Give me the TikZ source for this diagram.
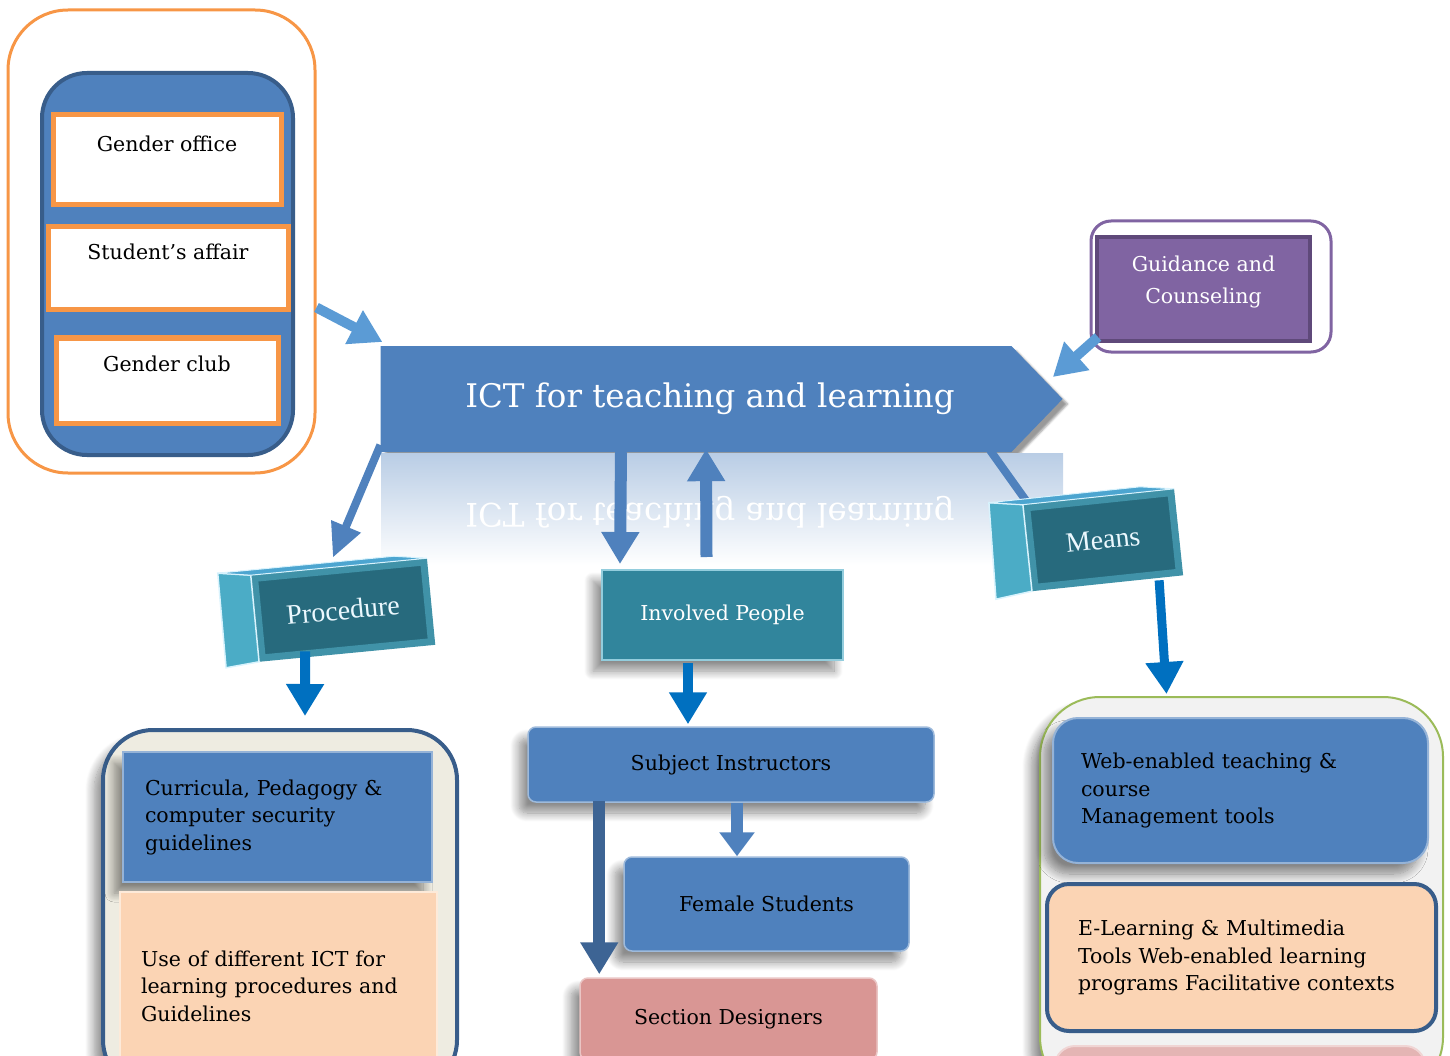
\documentclass[tikz,border=0pt]{standalone}
\usepackage{fontspec}
\setmainfont{DejaVu Serif}
\newfontfamily\blockfont{Liberation Serif}
\usetikzlibrary{positioning,calc,arrows.meta,shapes.symbols,shadows.blur}

\definecolor{ictblue}{HTML}{4F81BD}
\definecolor{darkblue}{HTML}{385D8A}
\definecolor{ictorange}{HTML}{F79646}
\definecolor{skyblue}{HTML}{5B9BD5}
\definecolor{deepblue}{HTML}{0070C0}
\definecolor{gcpurple}{HTML}{8064A2}
\definecolor{gcpurpledark}{HTML}{5F497A}
\definecolor{tealface}{HTML}{31859C}
\definecolor{teallight}{HTML}{4BACC6}
\definecolor{peach}{HTML}{FBD4B4}
\definecolor{rose}{HTML}{D99694}
\definecolor{beige}{HTML}{EEECE1}
\definecolor{olive}{HTML}{9BBB59}
\definecolor{panel}{HTML}{F2F2F2}
\definecolor{glow}{HTML}{B9CDE5}

\tikzset{
  txt/.style={font=\fontsize{20.5}{27.5}\selectfont},
  tagbox/.style={txt, draw=ictorange, line width=5pt, fill=white, text depth=33pt},
  soft/.style={blur shadow={shadow xshift=-9pt, shadow yshift=-11pt, shadow blur radius=9pt, shadow blur steps=12, shadow opacity=45}},
  glossy/.style={txt, rounded corners=8pt, fill=ictblue, draw=ictblue!55!white, line width=1.5pt, soft},
  listbox/.style={txt, align=left, inner xsep=22pt},
  cube/.style={fill=tealface!80!black, draw=teallight!85!black, line width=7pt, text=cyan!8,
    font=\blockfont\fontsize{28}{30}\selectfont},
  side/.style={fill=teallight, draw=cyan!15, line width=1.5pt},
  lid/.style={fill=cyan!35!teallight, draw=cyan!15, line width=1pt},
  fat/.style={line width=#1, -{Triangle[width=36pt,length=32pt]}},
  fat/.default=10pt,
}

\begin{document}
\begin{tikzpicture}[x=1pt,y=-1pt]
    \useasboundingbox (0,0) rectangle (1450,1056);
    \clip (0,0) rectangle (1450,1056);

    % offices
    \node[draw=ictorange, line width=3pt, rounded corners=60pt, minimum width=307pt, minimum height=463pt] (grp) at (161.5,241.5) {};
    \node[fill=ictblue, draw=darkblue, line width=4pt, rounded corners=45pt, minimum width=251pt, minimum height=382pt] (grpin) at (167.5,264) {};
    \node[tagbox, minimum width=228pt, minimum height=90pt] (office) at (167,160) {Gender office};
    \node[tagbox, minimum width=240pt, minimum height=83pt] (affair) at (168,268.5) {Student’s affair};
    \node[tagbox, minimum width=222pt, minimum height=85pt] (club) at (167,380.5) {Gender club};

    % main arrow and its reflection
    \node[signal, signal to=east, signal pointer angle=92, minimum width=682pt, minimum height=106pt,
          fill=ictblue, text=white, font=\fontsize{32.5}{36}\selectfont,
          blur shadow={shadow xshift=5pt, shadow yshift=-5pt, shadow opacity=40}] (ict) at (696,399) {\hspace*{28pt}ICT for teaching and learning};
    \shade[top color=glow, bottom color=white] (381,453) rectangle (1063,565);
    \node[font=\fontsize{32.5}{36}\selectfont, text=white, yscale=-1] (mirror) at (710,512) {ICT for teaching and learning};

    % guidance
    \node[draw=gcpurple, line width=3pt, rounded corners=20pt, minimum width=240pt, minimum height=131pt] (gcout) at (1211,286.5) {};
    \node[font=\fontsize{20.5}{32}\selectfont, fill=gcpurple, draw=gcpurpledark, line width=4pt, minimum width=213pt, minimum height=104pt,
          text=white, align=center, text depth=18pt] (gc) at (1203.5,289) {Guidance and\\Counseling};

    % lower groups
    \node[fill=beige, draw=darkblue, line width=4pt, rounded corners=50pt, minimum width=354pt, minimum height=360pt, soft] (pgrp) at (280,910) {};
    \node[listbox, fill=ictblue, draw=ictblue!60!white, line width=1.5pt, text width=265pt, minimum height=130pt, soft] (curr) at (277.5,817)
          {Curricula, Pedagogy \&\\computer security\\guidelines};
    \node[listbox, fill=peach, draw=peach!50!white, line width=1.5pt, inner xsep=21pt, text width=275pt, minimum height=188pt] (useict) at (278.5,986)
          {Use of different ICT for\\learning procedures and\\Guidelines};

    \node[fill=panel, draw=olive, line width=2pt, rounded corners=60pt, minimum width=403pt, minimum height=400pt, soft] (mgrp) at (1241.5,897) {};
    \node[listbox, rounded corners=25pt, fill=ictblue, draw=ictblue!60!white, line width=2pt, inner xsep=28pt, text width=319pt,
          minimum height=145pt, soft] (web) at (1240.5,790.5) {Web-enabled teaching \&\\course\\Management tools};
    \node[listbox, rounded corners=22pt, fill=peach, draw=darkblue, line width=4pt, inner xsep=31pt, text width=327pt,
          minimum height=147pt] (elearn) at (1241.5,957.5) {E-Learning \& Multimedia\\Tools Web-enabled learning\\programs Facilitative contexts};
    \node[fill=rose!70!white, draw=rose!40!white, line width=2pt, rounded corners=20pt, minimum width=370pt, minimum height=60pt] (more) at (1240,1076) {};

    % people
    \node[txt, fill=tealface, draw=teallight!60!white, line width=2pt, text=white, minimum width=241pt, minimum height=90pt, soft] (inv) at (722.5,615) {Involved People};
    \node[glossy, minimum width=406pt, minimum height=75pt] (subj) at (731,764.5) {Subject Instructors};
    \node[glossy, minimum width=285pt, minimum height=94pt] (fem) at (766.5,904) {Female Students};
    \node[glossy, fill=rose, draw=rose!55!white, minimum width=297pt, minimum height=82pt] (sec) at (728.5,1019) {Section Designers};

    % blocks
    \coordinate (mtop) at (1027,502);
    \draw[line width=8pt, ictblue] ($(ict.south)+(294,-2)$) -- (mtop);
    \node[cube, rotate=5.5, minimum width=170pt, minimum height=80pt] (proc) at (343,610) {Procedure};
    \fill[side] (proc.north west) -- ++(-33,-2) -- ($(proc.south west)+(-33,6)$) -- (proc.south west) -- cycle;
    \fill[lid] (proc.north west) -- ++(-33,-2) -- ($(proc.north east)+(-33,-2)$) -- (proc.north east) -- cycle;
    \node[cube, rotate=6, minimum width=145pt, minimum height=80pt] (means) at (1103,540) {Means};
    \fill[side] (means.north west) -- ++(-34,-2) -- ($(means.south west)+(-36,8)$) -- (means.south west) -- cycle;
    \fill[lid] (means.north west) -- ++(-34,-2) -- ($(means.north east)+(-34,-2)$) -- (means.north east) -- cycle;

    % arrows
    \draw[fat, skyblue] ($(grp.east)+(0,66)$) -- ($(ict.west)+(2,-57)$);
    \draw[fat, skyblue] ($(gc.south west)+(3,-6)$) -- ($(ict.east)+(-10,-22)$);
    \draw[line width=8pt, ictblue, -{Triangle[width=30pt,length=34pt]}] ($(ict.west)+(0,46)$) -- ($(proc.north)+(-6,-9)$);
    \draw[fat=12pt, ictblue] ($(ict.south)+(-75,0)$) -- ($(inv.north west)+(19,-5)$);
    \draw[fat=12pt, ictblue] ($(inv.north)+(-16,-12)$) -- ($(ict.south)+(10,-3)$);
    \draw[fat, deepblue] ($(proc.south)+(-42,-2)$) -- ($(pgrp.north)+(25,-12)$);
    \draw[fat, deepblue] ($(inv.south)+(-34.5,2)$) -- ($(subj.north)+(-43,-2)$);
    \draw[line width=12pt, ictblue, -{Triangle[width=34pt,length=24pt]}] ($(subj.south)+(6,0)$) -- ($(fem.north)+(-29.5,0)$);
    \draw[fat=12pt, darkblue!80!ictblue] ($(subj.south west)+(72,-2)$) -- ($(sec.north west)+(20,-3)$);
    \draw[fat=9pt, deepblue] ($(means.south east)+(-24,5)$) -- ($(mgrp.north)+(-75,-2)$);
\end{tikzpicture}
\end{document}
